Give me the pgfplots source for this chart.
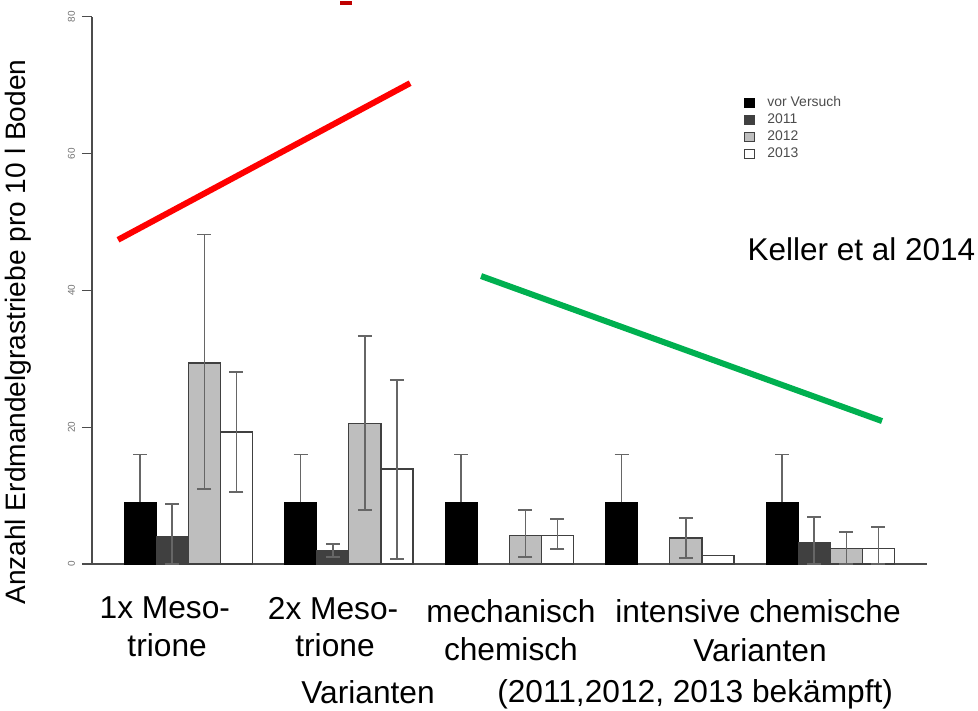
\documentclass[border=0pt]{standalone}
\usepackage{fontspec}
\setmainfont{Liberation Sans}
\usepackage{pgfplots}
\pgfplotsset{compat=1.18}
\definecolor{dgray}{HTML}{404040}
\definecolor{lgray}{HTML}{BEBEBE}
\definecolor{mygreen}{HTML}{00B050}
\pgfplotsset{
  mybar/.style={ybar, bar width=1, bar shift=0pt, draw=black!75, line width=0.6bp,
    legend image code/.code={\draw[##1, line width=0.6bp] (0bp,-2.4bp) rectangle (4.8bp,2.4bp);}},
}
\begin{document}
\begin{tikzpicture}
\begin{axis}[
  scale only axis, width=417.3bp, height=273.6bp,
  xmin=0, xmax=26, ymin=0, ymax=80,
  axis lines=left, axis line style={-, black!70, line width=0.6bp},
  xtick=\empty,
  ytick={0,20,40,60,80},
  tick align=outside, major tick length=5bp,
  tick style={black!70, line width=0.6bp},
  yticklabel style={rotate=90, anchor=south, font=\fontsize{5}{6}\selectfont, text=black!55},
  /pgf/number format/assume math mode=true,
  clip=false,
  legend style={at={(axis cs:20.3,68.7)}, anchor=north west, draw=none, fill=none,
    font=\fontsize{7}{8}\selectfont, text=black!70, inner sep=0pt, row sep=0pt, column sep=5.5bp,
    nodes={inner sep=0.8bp, text height=5.3bp, text depth=1.6bp}},
  legend cell align=left,
  error bars/y dir=both, error bars/y explicit,
  error bars/error mark=-,
  error bars/error mark options={rotate=90, mark size=3.5bp, line width=0.8bp, black!60},
  error bars/error bar style={line width=0.8bp, black!60},
]
% vor Versuch
\addplot[mybar, fill=black, draw=black, error bars/y dir=plus] coordinates {
  (1.5,9) += (0,7) -= (0,0)
  (6.5,9) += (0,7) -= (0,0)
  (11.5,9) += (0,7) -= (0,0)
  (16.5,9) += (0,7) -= (0,0)
  (21.5,9) += (0,7) -= (0,0)
};
% 2011
\addplot[mybar, fill=dgray] coordinates {
  (2.5,4.0) += (0,4.8) -= (0,4.0)
  (7.5,2.0) += (0,0.9) -= (0,1.0)
  (22.5,3.2) += (0,3.7) -= (0,3.2)
};
% 2012
\addplot[mybar, fill=lgray] coordinates {
  (3.5,29.4) += (0,18.8) -= (0,18.4)
  (8.5,20.6) += (0,12.7) -= (0,12.7)
  (13.5,4.2) += (0,3.7) -= (0,3.2)
  (18.5,3.8) += (0,2.9) -= (0,2.9)
  (23.5,2.3) += (0,2.4) -= (0,2.3)
};
% 2013
\addplot[mybar, fill=white] coordinates {
  (4.5,19.3) += (0,8.8) -= (0,8.8)
  (9.5,13.9) += (0,13.0) -= (0,13.2)
  (14.5,4.2) += (0,2.4) -= (0,2.0)
  (24.5,2.3) += (0,3.1) -= (0,2.3)
};
\addplot[mybar, fill=white, forget plot] coordinates {(19.5,1.2)};
\legend{vor Versuch, 2011, 2012, 2013}
% annotation lines
\addplot[red, line width=3bp, forget plot] coordinates {(0.81,47.4) (9.91,70.3)};
\addplot[mygreen, line width=3bp, forget plot] coordinates {(12.12,42.1) (24.61,20.9)};
\addplot[red!75!black, line width=2bp, forget plot] coordinates {(7.73,82.0) (8.1,82.0)};
% texts
\node[rotate=90, anchor=base, inner sep=0, font=\fontsize{14.1}{16}\selectfont] at (axis cs:-2.06,33.9) {Anzahl Erdmandelgrastriebe pro 10 l Boden};
\node[anchor=base west, inner sep=0, font=\fontsize{15.8}{18}\selectfont] at (axis cs:20.41,44.44) {Keller et al 2014};
\begin{scope}[every node/.style={anchor=base, inner sep=0, font=\fontsize{15.9}{18}\selectfont}]
\node at (axis cs:2.27,-7.89) {1x Meso-};
\node at (axis cs:2.34,-13.45) {trione};
\node at (axis cs:7.51,-8.04) {2x Meso-};
\node at (axis cs:7.57,-13.45) {trione};
\node at (axis cs:13.05,-8.48) {mechanisch};
\node at (axis cs:13.05,-14.04) {chemisch};
\node at (axis cs:20.75,-8.48) {intensive chemische};
\node at (axis cs:20.81,-14.18) {Varianten};
\node at (axis cs:8.6,-20.32) {Varianten};
\node at (axis cs:18.79,-20.18) {(2011,2012, 2013 bekämpft)};
\end{scope}
\coordinate (bbsw) at (axis cs:-2.866,-21.35);
\coordinate (bbne) at (axis cs:27.60,82.46);
\end{axis}
\pgfresetboundingbox
\useasboundingbox (bbsw) rectangle (bbne);
\end{tikzpicture}
\end{document}
